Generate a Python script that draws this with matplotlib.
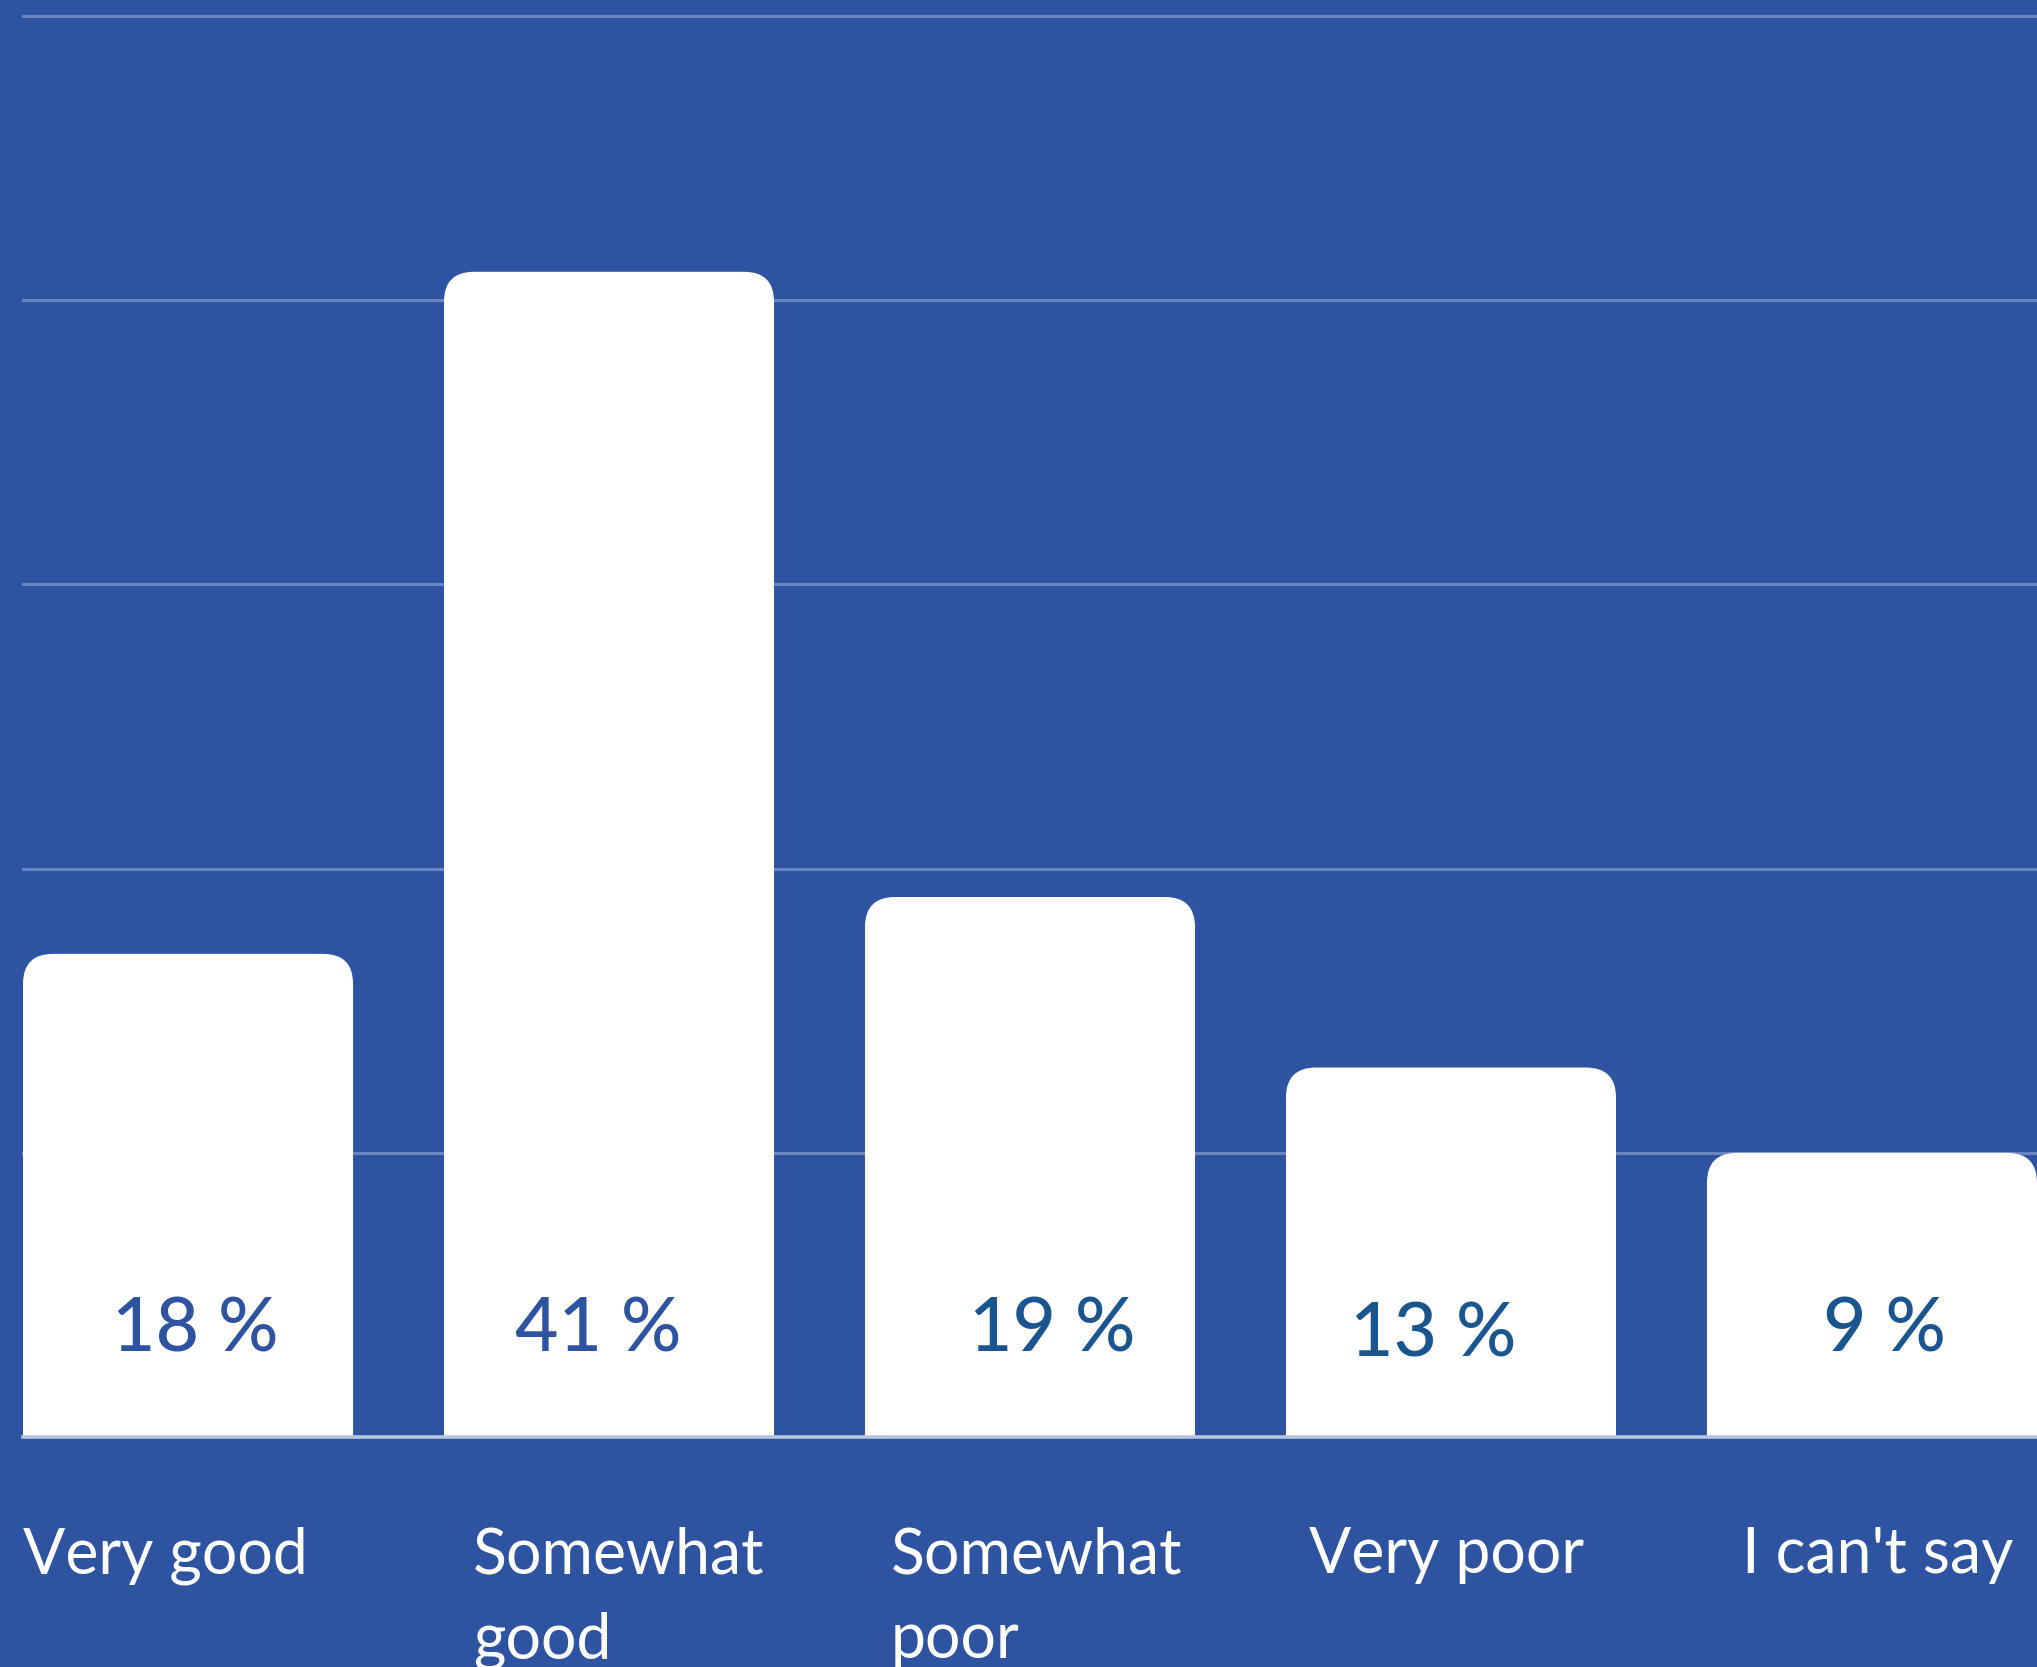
import matplotlib
matplotlib.use("Agg")
import matplotlib.pyplot as plt
from matplotlib.patches import FancyBboxPatch

categories = ["Very good", "Somewhat\ngood", "Somewhat\npoor", "Very poor", "I can't say"]
heights = [17, 41, 19, 13, 10]
value_labels = ["18 %", "41 %", "19 %", "13 %", "9 %"]
y_ticks = [10, 20, 30, 40, 50]

BG = "#2e53a1"
GRID = "#6a86c0"
BASE = "#b7c5e0"
VAL_COLORS = ["#2e53a1", "#2e53a1", "#1a5590", "#1a5590", "#1a5590"]
VAL_DX = [0.017, -0.026, 0.052, -0.043, 0.029]      # small nudges seen in the source
VAL_Y = [3.0, 3.0, 3.0, 2.85, 3.0]
CAT_DX = [0.0, 0.069, 0.062, 0.055, 0.083]

plt.rcParams["font.family"] = ["Lato", "DejaVu Sans"]

W, H, DPI = 2037, 1667, 100
fig = plt.figure(figsize=(W / DPI, H / DPI), dpi=DPI, facecolor=BG)
ax = fig.add_axes([23 / W, 1 - 1437 / H, 1 - 23 / W, (1437 - 16) / H])
ax.set_facecolor(BG)

bw = 0.784
x = list(range(len(categories)))
ax.set_xlim(-bw / 2, len(categories) - 1 + bw / 2)
ax.set_ylim(0, 50)

for t in y_ticks:
    ax.axhline(t, color=GRID, lw=2.2, zorder=1, clip_on=False)

bars = ax.bar(x, heights, width=bw, color="white", zorder=2)
# px per data unit, to keep the top corners circular
px_x = ax.get_position().width * W / (ax.get_xlim()[1] - ax.get_xlim()[0])
px_y = ax.get_position().height * H / 50
r = 30 / px_x
for b in bars:
    b.set_visible(False)
    p = FancyBboxPatch((b.get_x(), -3), b.get_width(), b.get_height() + 3,
                       boxstyle=f"round,pad=0,rounding_size={r}",
                       mutation_aspect=px_x / px_y,
                       fc="white", ec="none", zorder=2)
    ax.add_patch(p)

ax.axhline(0, color=BASE, lw=2.6, zorder=3, clip_on=False)

for i, lab in enumerate(value_labels):
    ax.text(x[i] + VAL_DX[i], VAL_Y[i], lab, ha="center", va="baseline",
            fontsize=54, fontweight="medium", color=VAL_COLORS[i], zorder=4)

line_gap = 85 / px_y
for i, cat in enumerate(categories):
    for k, line in enumerate(cat.split("\n")):
        ax.text(x[i] - bw / 2 + CAT_DX[i], -4.79 - k * line_gap, line,
                ha="left", va="baseline", fontsize=45, color="white",
                clip_on=False)

for s in ax.spines.values():
    s.set_visible(False)
ax.set_xticks([])
ax.set_yticks([])

fig.savefig("out.png", dpi=DPI, facecolor=BG)
